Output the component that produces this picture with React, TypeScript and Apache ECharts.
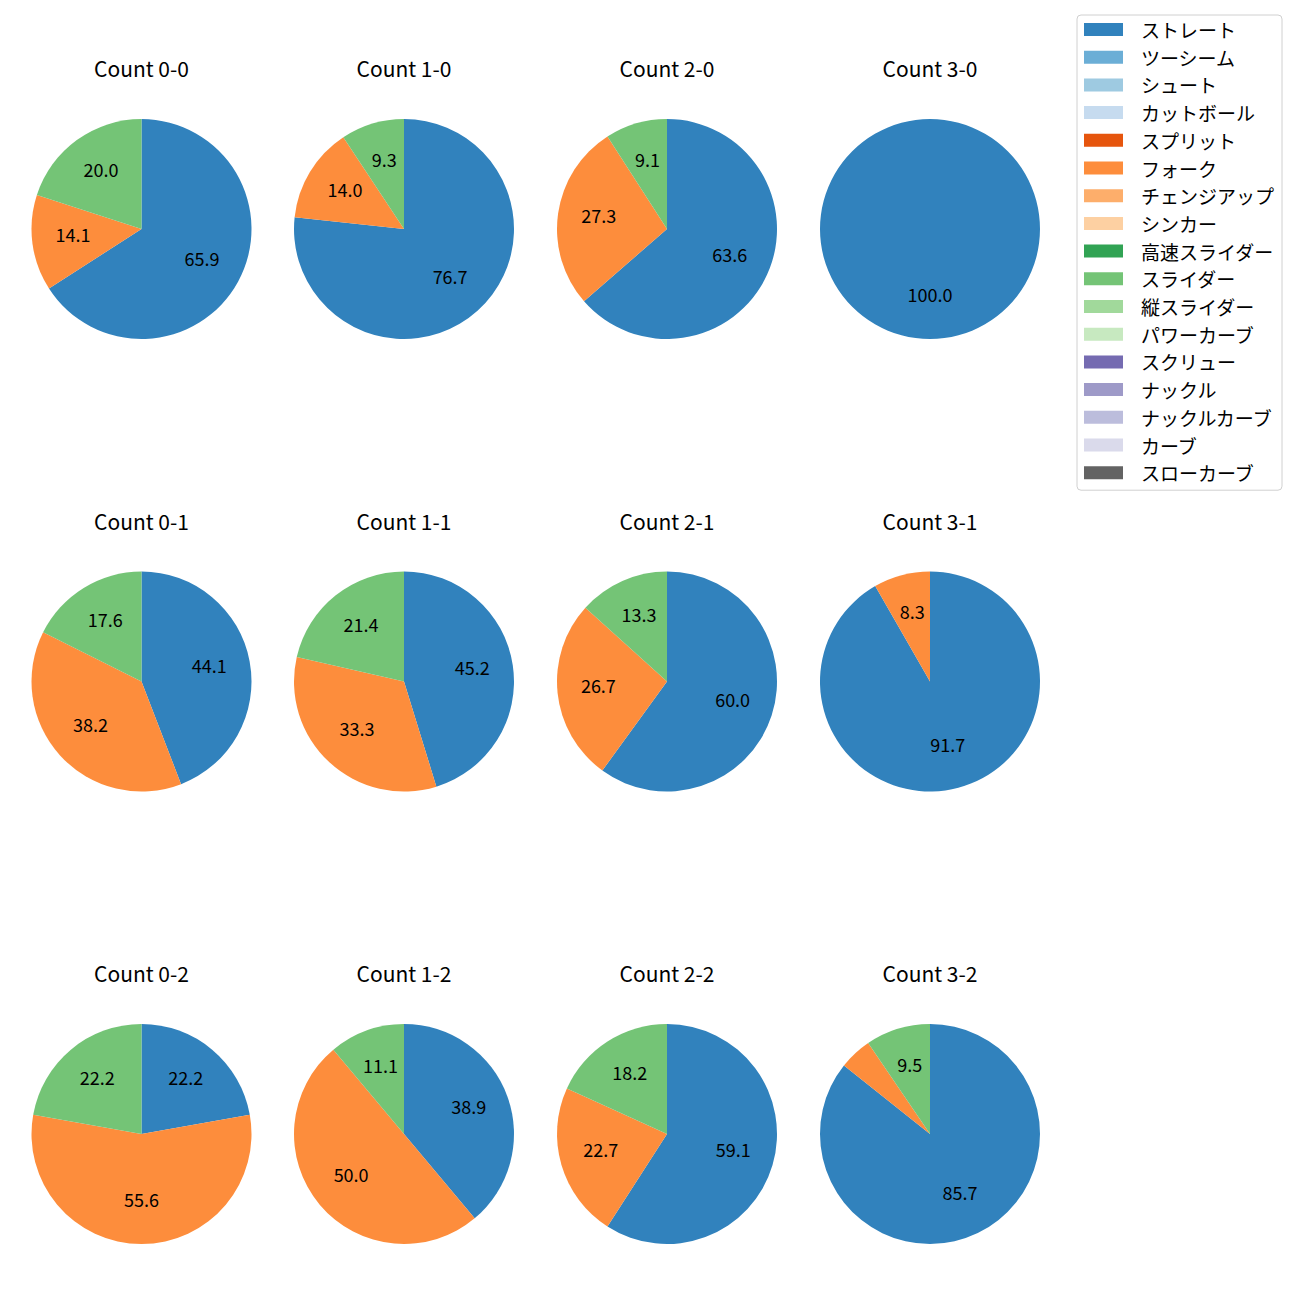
import React, { useEffect, useRef } from "react";
import * as echarts from "echarts";

const categories = [
  "ストレート", "ツーシーム", "シュート", "カットボール", "スプリット", "フォーク",
  "チェンジアップ", "シンカー", "高速スライダー", "スライダー", "縦スライダー",
  "パワーカーブ", "スクリュー", "ナックル", "ナックルカーブ", "カーブ", "スローカーブ",
];
const palette = [
  "#3182bd", "#6baed6", "#9ecae1", "#c6dbef", "#e6550d", "#fd8d3c", "#fdae6b",
  "#fdd0a2", "#31a354", "#74c476", "#a1d99b", "#c7e9c0", "#756bb1", "#9e9ac8",
  "#bcbddc", "#dadaeb", "#636363",
];

const panelTitles = [
  "Count 0-0", "Count 1-0", "Count 2-0", "Count 3-0",
  "Count 0-1", "Count 1-1", "Count 2-1", "Count 3-1",
  "Count 0-2", "Count 1-2", "Count 2-2", "Count 3-2",
];
const straightPct = [65.9, 76.7, 63.6, 100.0, 44.1, 45.2, 60.0, 91.7, 22.2, 38.9, 59.1, 85.7];
const forkPct = [14.1, 14.0, 27.3, 0, 38.2, 33.3, 26.7, 8.3, 55.6, 50.0, 22.7, 4.8];
const sliderPct = [20.0, 9.3, 9.1, 0, 17.6, 21.4, 13.3, 0, 22.2, 11.1, 18.2, 9.5];

const FONT = "'Noto Sans CJK JP', 'Noto Sans', sans-serif";
const colX = [141.5, 404, 667, 930];
const rowY = [229, 681.5, 1134];
const R = 110;

function panelData(i: number) {
  return categories.map((name) => {
    let v = 0;
    if (name === "ストレート") v = straightPct[i];
    else if (name === "フォーク") v = forkPct[i];
    else if (name === "スライダー") v = sliderPct[i];
    return { name, value: v };
  });
}

export default function App() {
  const ref = useRef<HTMLDivElement>(null);
  useEffect(() => {
    document.body.style.margin = "0";
    const chart = echarts.init(ref.current!, null, { renderer: "svg" });
    const series: any[] = [];
    const graphics: any[] = [];
    panelTitles.forEach((t, i) => {
      const cx = colX[i % 4];
      const cy = rowY[Math.floor(i / 4)];
      const data = panelData(i);
      series.push({
        type: "pie",
        center: [cx, cy],
        radius: [0, R],
        startAngle: 90,
        clockwise: true,
        silent: true,
        label: { show: false },
        labelLine: { show: false },
        itemStyle: { borderWidth: 0 },
        data,
      });
      series.push({
        type: "pie",
        center: [cx, cy],
        radius: [R * 0.2, R],
        startAngle: 90,
        clockwise: true,
        silent: true,
        itemStyle: { color: "transparent", borderWidth: 0 },
        label: {
          show: true,
          position: "inside",
          color: "#000",
          fontSize: 18,
          fontFamily: FONT,
          formatter: (p: any) => (p.value >= 5 ? Number(p.value).toFixed(1) : ""),
        },
        labelLayout: { dy: -4 },
        labelLine: { show: false },
        data,
      });
      graphics.push({
        type: "text",
        x: cx,
        y: cy - 161,
        style: {
          text: t,
          textAlign: "center",
          textVerticalAlign: "middle",
          fontSize: 21,
          fontFamily: FONT,
          fill: "#000",
        },
      });
    });
    chart.setOption({
      animation: false,
      color: palette,
      backgroundColor: "#fff",
      legend: {
        orient: "vertical",
        left: 1077,
        top: 15,
        padding: [5, 8, 8, 7],
        itemGap: 8.7,
        itemWidth: 39,
        itemHeight: 13,
        icon: "rect",
        backgroundColor: "#fff",
        borderColor: "#d0d0d0",
        borderWidth: 1,
        borderRadius: 4,
        selectedMode: false,
        data: categories,
        textStyle: {
          fontSize: 19,
          fontFamily: FONT,
          color: "#000",
          padding: [0, 0, 0, 13],
        },
      },
      graphic: graphics,
      series,
    });
    return () => chart.dispose();
  }, []);
  return <div ref={ref} style={{ width: 1300, height: 1300 }} />;
}
